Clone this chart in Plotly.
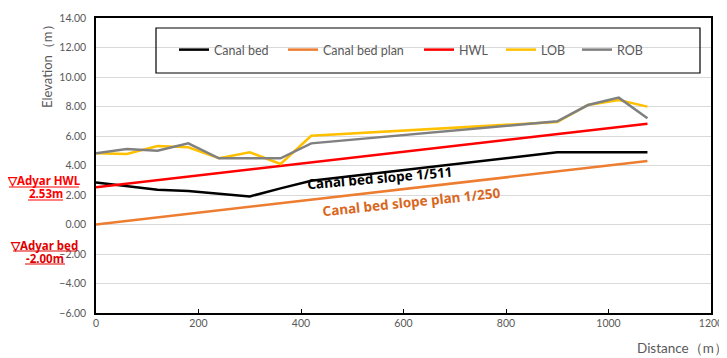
import plotly.graph_objects as go

# Distance along the canal (m)
distance = [0, 60, 120, 180, 240, 300, 360, 420, 900, 960, 1020, 1076]

# Elevations (m)
canal_bed = [2.85, 2.60, 2.35, 2.27, 2.10, 1.90, 2.45, 2.97, 4.90, 4.90, 4.90, 4.90]
canal_bed_plan = [0.00, 4.30]
plan_dist = [0, 1076]
hwl = [2.53, 6.83]
hwl_dist = [0, 1076]
lob = [4.83, 4.78, 5.32, 5.23, 4.50, 4.90, 4.10, 6.02, 6.95, 8.10, 8.44, 7.99]
rob = [4.83, 5.12, 5.00, 5.50, 4.49, 4.49, 4.49, 5.50, 7.00, 8.10, 8.60, 7.20]

y_ticks = [-6, -4, -2, 0, 2, 4, 6, 8, 10, 12, 14]
x_ticks = [0, 200, 400, 600, 800, 1000, 1200]

gray = "#595959"
font = "Lato"
bold_font = "Noto Sans"

# the page body has an 8px margin, so the figure is drawn 8px smaller
OFF = 8
W, H = 727 - OFF, 358 - OFF

fig = go.Figure()
fig.add_trace(go.Scatter(x=distance, y=canal_bed, mode="lines", name="Canal bed",
                         line=dict(color="black", width=2.5), legend="legend"))
fig.add_trace(go.Scatter(x=plan_dist, y=canal_bed_plan, mode="lines", name="Canal bed plan",
                         line=dict(color="#ED7D31", width=2.5), legend="legend2"))
fig.add_trace(go.Scatter(x=hwl_dist, y=hwl, mode="lines", name="HWL",
                         line=dict(color="#FF0000", width=2.5), legend="legend3"))
fig.add_trace(go.Scatter(x=distance, y=lob, mode="lines", name="LOB",
                         line=dict(color="#FFC000", width=2.5), legend="legend4"))
fig.add_trace(go.Scatter(x=distance, y=rob, mode="lines", name="ROB",
                         line=dict(color="#808080", width=2.5), legend="legend5"))

# page px -> paper helpers for the layout decorations
def px_x(p):
    return (p - 96) / 615

def px_y(p):
    return (313 - p) / 295

def label(px, py, text, size, color, family=bold_font, angle=0):
    return dict(x=px_x(px), y=px_y(py), xref="paper", yref="paper", text=text,
                xanchor="center", yanchor="middle", textangle=angle, showarrow=False,
                font=dict(size=size, color=color, family=family))

annotations = [
    dict(x=554, y=3.15, xref="x", yref="y", text="<b>Canal bed slope 1/511</b>",
         textangle=-5, showarrow=False, font=dict(size=13.5, color="black", family=bold_font)),
    dict(x=615, y=1.53, xref="x", yref="y", text="<b>Canal bed slope plan 1/250</b>",
         textangle=-6, showarrow=False, font=dict(size=13.5, color="#D9671E", family=bold_font)),
    label(44, 181, "<b>▽Adyar HWL</b>", 11.5, "#FF0000"),
    label(46, 193, "<b>2.53m</b>", 11.5, "#FF0000"),
    label(44, 245, "<b>▽Adyar bed</b>", 11.5, "#E00000"),
    label(45, 258, "<b>-2.00m</b>", 11.5, "#E00000"),
    label(47, 63, "Elevation（m）", 13, gray, family=font, angle=-90),
    label(682, 348, "Distance（m）", 13.5, gray, family=font),
]

shapes = [
    # legend frame
    dict(type="rect", xref="paper", yref="paper", x0=px_x(156), x1=px_x(700),
         y0=px_y(73), y1=px_y(28), line=dict(color="black", width=1.2)),
    # underlines of the left labels
    dict(type="line", xref="paper", yref="paper", x0=px_x(9), x1=px_x(79),
         y0=px_y(187), y1=px_y(187), line=dict(color="#FF0000", width=1)),
    dict(type="line", xref="paper", yref="paper", x0=px_x(28), x1=px_x(63),
         y0=px_y(200), y1=px_y(200), line=dict(color="#FF0000", width=1)),
    dict(type="line", xref="paper", yref="paper", x0=px_x(13), x1=px_x(77),
         y0=px_y(251), y1=px_y(251), line=dict(color="#E00000", width=1)),
    dict(type="line", xref="paper", yref="paper", x0=px_x(25), x1=px_x(65),
         y0=px_y(264), y1=px_y(264), line=dict(color="#E00000", width=1)),
]

legend_px = [174, 283, 419, 501, 577]
legend_style = dict(orientation="h", yanchor="middle", xanchor="left",
                    bgcolor="rgba(0,0,0,0)", itemwidth=30,
                    font=dict(size=12.5, color=gray, family=font))
legends = {}
for i, p in enumerate(legend_px):
    key = "legend" if i == 0 else "legend%d" % (i + 1)
    legends[key] = dict(legend_style, x=px_x(p), y=px_y(50))

fig.update_layout(
    width=W, height=H,
    margin=dict(l=96 - OFF, r=16, t=18 - OFF, b=45, autoexpand=False),
    paper_bgcolor="white", plot_bgcolor="white",
    font=dict(family=font, color=gray, size=11),
    showlegend=True,
    annotations=annotations,
    shapes=shapes,
    **legends,
)
fig.update_xaxes(range=[0, 1200], tickvals=x_ticks, showgrid=False, zeroline=False,
                 showline=True, linecolor="black", linewidth=1.5, mirror=True,
                 ticks="inside", ticklen=4, tickcolor="black", automargin=False,
                 tickfont=dict(size=10.5, color=gray))
fig.update_yaxes(range=[-6, 14], tickvals=y_ticks, tickformat=".2f", showgrid=True,
                 gridcolor="#D9D9D9", gridwidth=1, zeroline=False,
                 showline=True, linecolor="black", linewidth=1.5, mirror=True,
                 ticks="", ticklabelstandoff=6, automargin=False,
                 tickfont=dict(size=10.5, color=gray))

fig.write_html("out.html")
